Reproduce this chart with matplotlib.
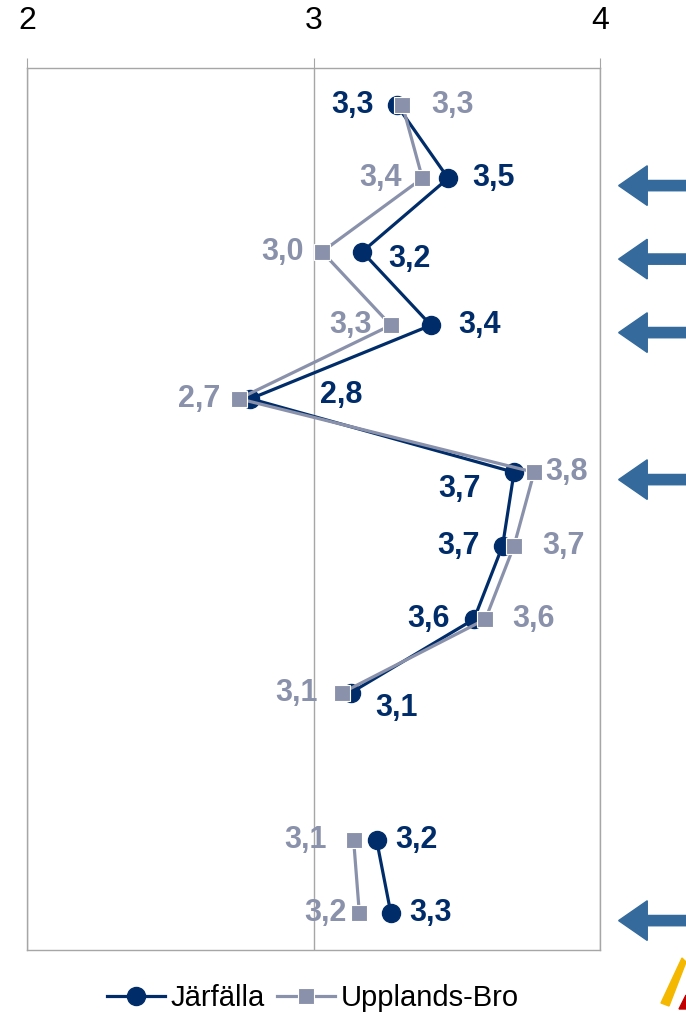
import numpy as np
import matplotlib.pyplot as plt
from matplotlib.patches import Polygon

plt.rcParams['font.family'] = ['Liberation Sans', 'DejaVu Sans']

# data (rows top to bottom, row 10 empty)
rows = list(range(12))
jarfalla = [3.29, 3.47, 3.17, 3.41, 2.78, 3.70, 3.66, 3.56, 3.13, np.nan, 3.22, 3.27]
upplands_bro = [3.31, 3.38, 3.03, 3.27, 2.74, 3.77, 3.70, 3.60, 3.10, np.nan, 3.14, 3.16]
series_names = ['Järfälla', 'Upplands-Bro']
x_ticks = [2, 3, 4]
arrow_rows = [1, 2, 3, 5, 11]

# label offsets in pixels (dx, dy)
j_offsets = [(-44, 0), (45, 0), (47, -7), (49, 0), (91, 4), (-55, -17),
             (-44, 0), (-45, 0), (46, -15), None, (40, 0), (40, 0)]
b_offsets = [(50, 0), (-42, 0), (-40, 0), (-40, 0), (-40, 0), (32, 0),
             (49, 0), (48, 0), (-46, 0), None, (-48, 0), (-34, 0)]

c_j = '#002D69'
c_b = '#8A91AB'
c_grid = '#A6A6A6'
c_arrow = '#346A9C'

fig = plt.figure(figsize=(6.86, 10.15), dpi=100)
ax = fig.add_axes([27 / 686, 1 - 950 / 1015, 573 / 686, 882 / 1015])

ax.plot(jarfalla, rows, color=c_j, lw=2.3, marker='o', ms=13, mec=c_j, zorder=3,
        label=series_names[0])
ax.plot(upplands_bro, rows, color=c_b, lw=2.3, marker='s', ms=11, mec='white', mew=0.8,
        zorder=4, label=series_names[1])

for vals, offs, col in [(jarfalla, j_offsets, c_j), (upplands_bro, b_offsets, c_b)]:
    for r, v, o in zip(rows, vals, offs):
        if o is None or np.isnan(v):
            continue
        ax.annotate(f'{v:.1f}'.replace('.', ','), (v, r), xytext=o, textcoords='offset pixels',
                    ha='center', va='center', fontsize=22, fontweight='bold', color=col, zorder=5)

ax.set_xlim(2, 4)
ax.set_ylim(11.5, -0.5)
ax.set_yticks([])
ax.set_xticks(x_ticks)
ax.xaxis.tick_top()
ax.tick_params(axis='x', length=7, color=c_grid, labelsize=23, pad=16)
for x in x_ticks:
    ax.axvline(x, color=c_grid, lw=1, zorder=1)
for s in ax.spines.values():
    s.set_color(c_grid)
    s.set_linewidth(1)

# arrows on the right, outside the plot
for r in arrow_rows:
    y = r + 0.1
    x0 = 4.065
    hl = 0.1
    hh = 0.27
    sh = 0.07
    pts = [(x0, y), (x0 + hl, y - hh), (x0 + hl, y - sh), (4.4, y - sh),
           (4.4, y + sh), (x0 + hl, y + sh), (x0 + hl, y + hh)]
    ax.add_patch(Polygon(pts, closed=True, color=c_arrow, clip_on=False, zorder=2))

fig.legend(handles=ax.lines[:2], loc='center', bbox_to_anchor=(313 / 686, 1 - 998 / 1015),
           ncol=2, frameon=False, fontsize=21, handlelength=2.0, handletextpad=0.2,
           columnspacing=0.4)

# logo fragment, bottom right
fig.patches.append(Polygon([(661 / 686, 1 - 1003 / 1015), (682 / 686, 1 - 958 / 1015),
                            (686 / 686, 1 - 962 / 1015), (669 / 686, 1 - 1006 / 1015)],
                           closed=True, transform=fig.transFigure, color='#F5B800'))
fig.patches.append(Polygon([(679 / 686, 1 - 1009 / 1015), (686 / 686, 1 - 995 / 1015),
                            (686 / 686, 1 - 1009 / 1015)],
                           closed=True, transform=fig.transFigure, color='#C00000'))

fig.savefig('out.png', dpi=100)
